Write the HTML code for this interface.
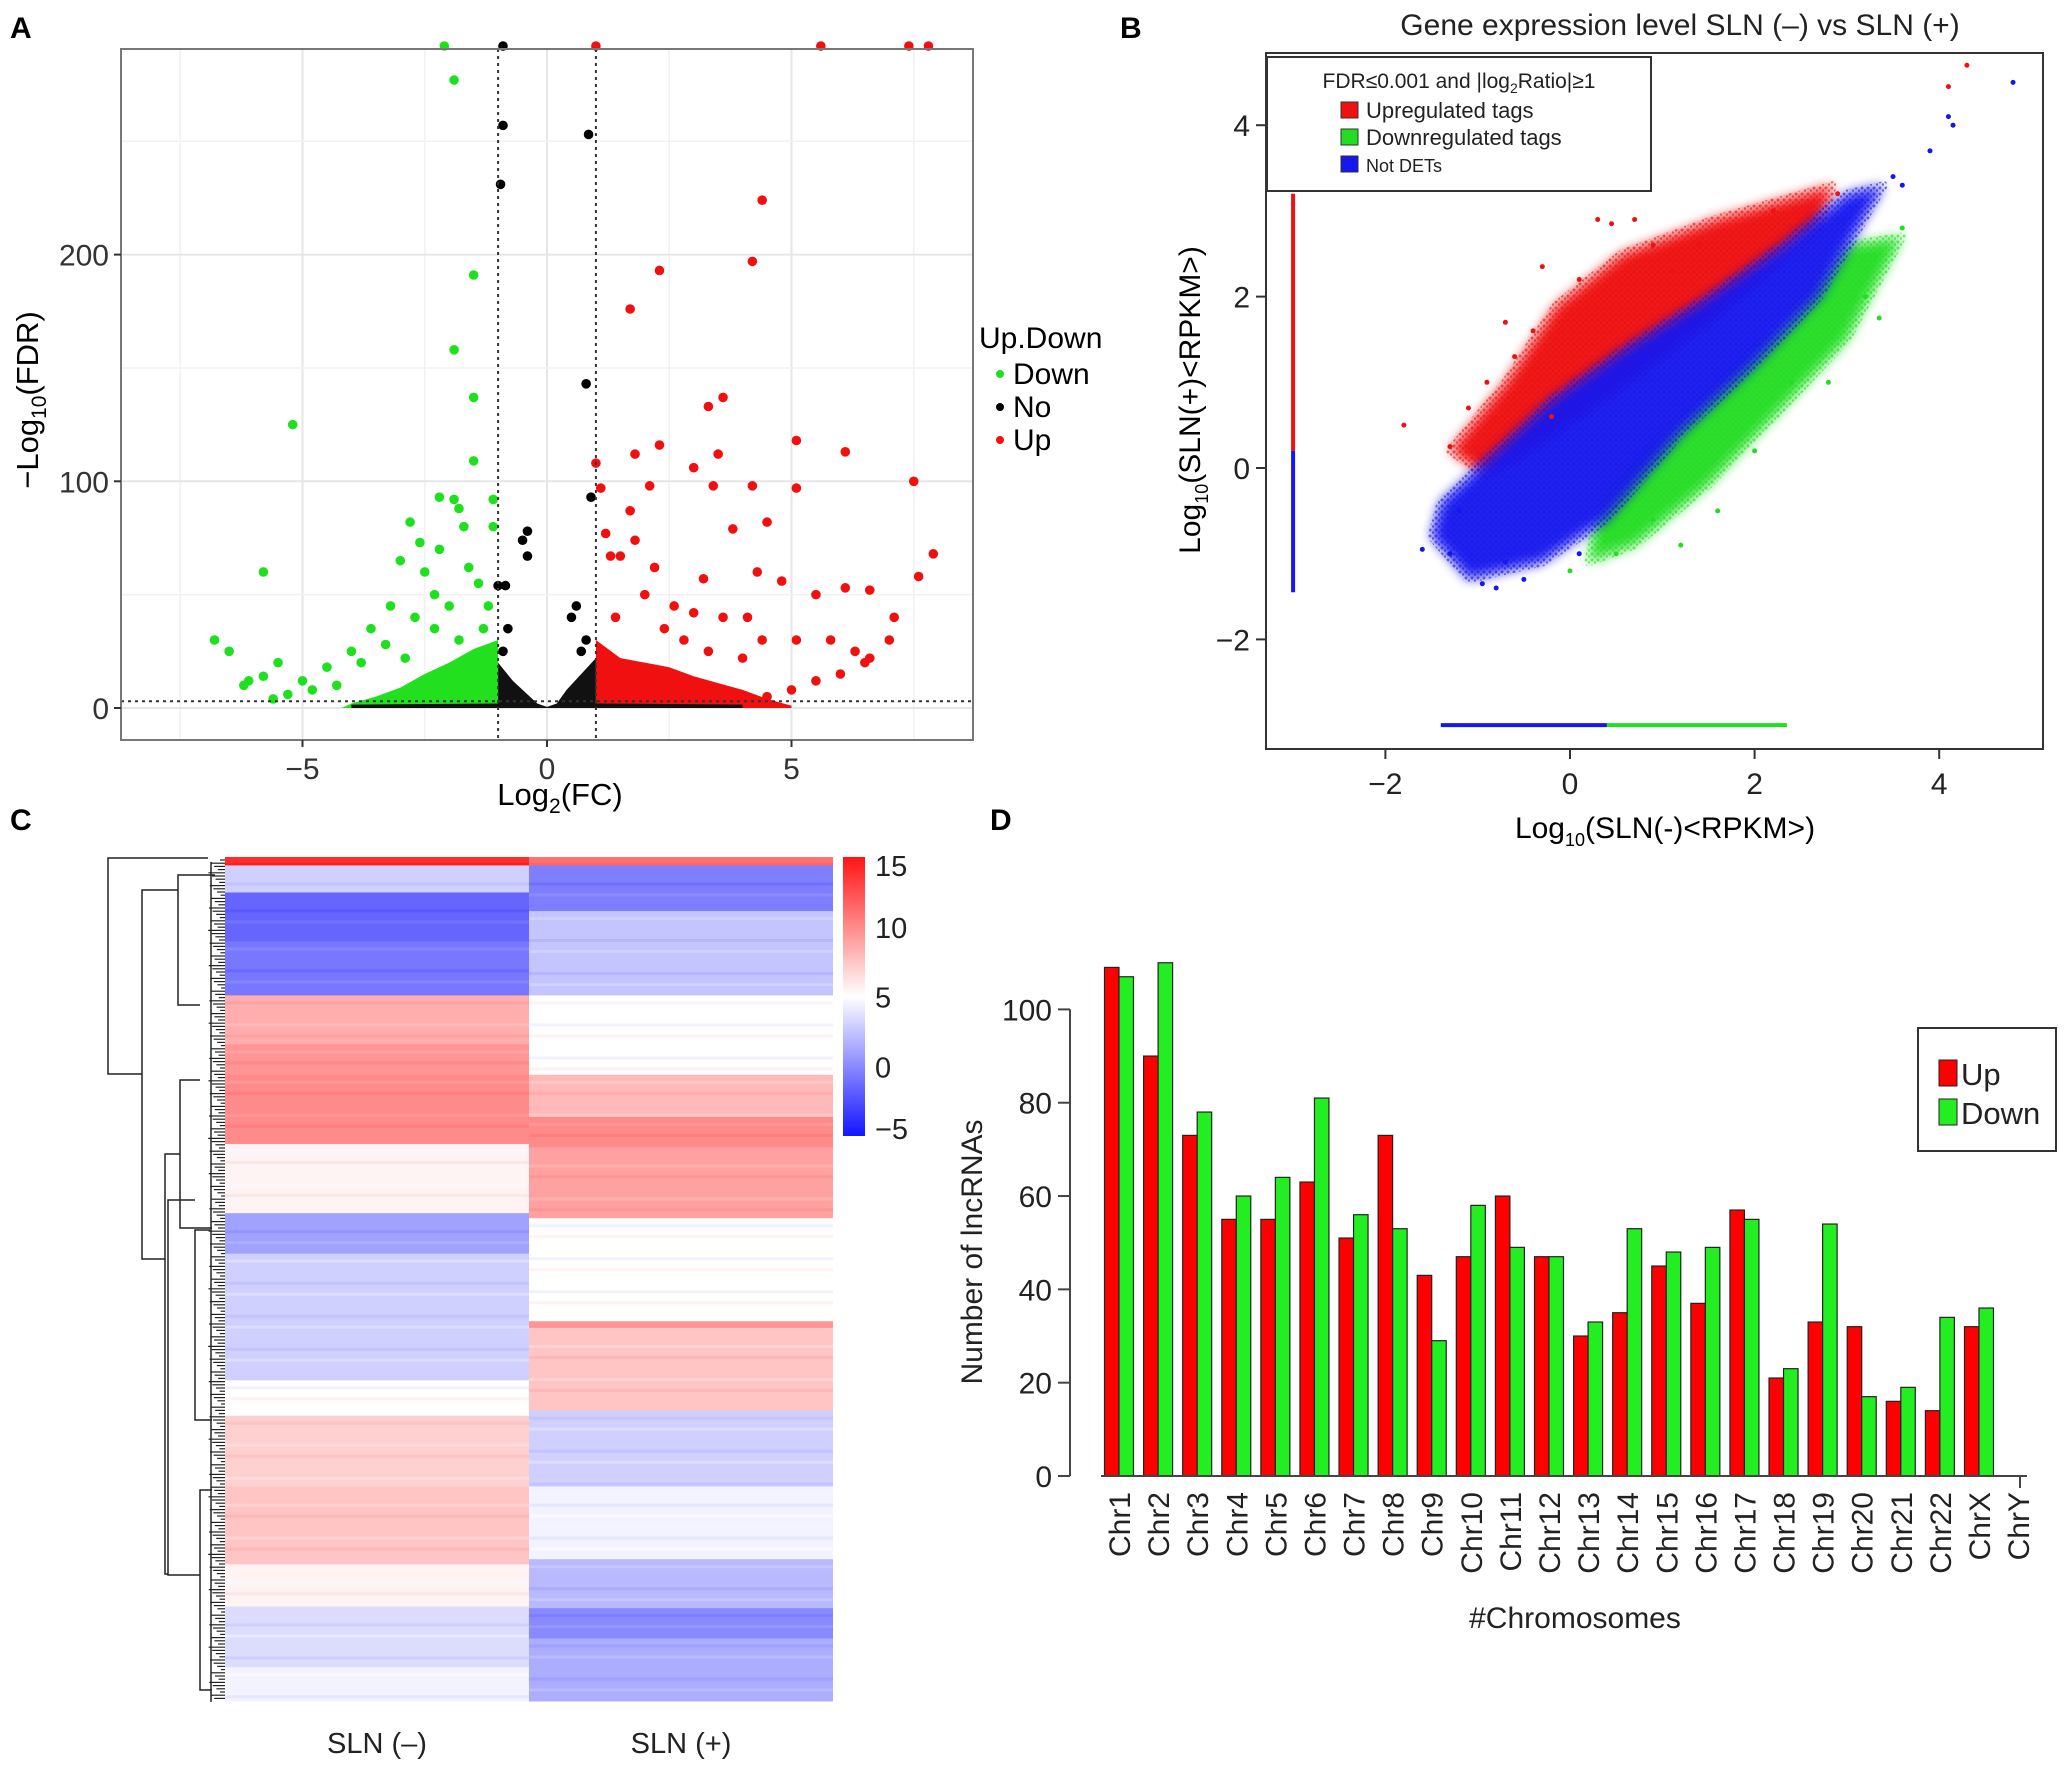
<!DOCTYPE html>
<html><head><meta charset="utf-8">
<style>
body{margin:0;background:#fff;}
svg{display:block;font-family:"Liberation Sans",Arial,sans-serif;}
</style></head>
<body>
<svg id="fig" width="2067" height="1769" viewBox="0 0 2067 1769" xmlns="http://www.w3.org/2000/svg">
<defs>
<filter id="blurB" x="-20%" y="-20%" width="140%" height="140%"><feGaussianBlur stdDeviation="6"/></filter>
<pattern id="dotR" width="6" height="6" patternUnits="userSpaceOnUse"><circle cx="2" cy="2" r="1.5" fill="#ee1111"/><circle cx="5" cy="4.5" r="1.2" fill="#ee1111"/></pattern>
<pattern id="dotG" width="6" height="6" patternUnits="userSpaceOnUse"><circle cx="2" cy="2" r="1.5" fill="#22dd22"/><circle cx="5" cy="4.5" r="1.2" fill="#22dd22"/></pattern>
<pattern id="dotB" width="6" height="6" patternUnits="userSpaceOnUse"><circle cx="2" cy="2" r="1.5" fill="#1616ee"/><circle cx="5" cy="4.5" r="1.2" fill="#1616ee"/></pattern>
</defs>
<rect width="2067" height="1769" fill="#fff"/>
<g id="A"></g>
<g id="B"></g>
<g id="C"></g>
<g id="D"></g>
</svg>
<script>
// ---------- Panel A data ----------
const volGreenCloud=[[-4.2,0],[-4,2],[-3.5,5],[-3,9],[-2.5,15],[-2,20],[-1.5,26],[-1,30],[-1,0]];
const volRedCloud=[[1,0],[1,30],[1.5,22],[2,20],[2.5,18],[3,14],[3.5,11],[4,8],[4.5,4],[5,1],[5,0]];
const volBlackCloud=[[-4,0],[-4,1.5],[-1,2],[-1,20],[-0.7,12],[-0.4,6],[-0.2,2],[0,0.5],[0.2,2],[0.4,8],[0.7,15],[1,22],[1,2],[4,1.5],[4,0]];
const volGreenPts=[[-6.8,30],[-6.5,25],[-5.8,60],[-5.2,125],[-5.5,20],[-1.9,277],[-1.5,191],[-1.9,158],[-1.5,137],[-1.5,109],[-2.1,292],[-2.2,93],[-2.8,82],[-1.7,80],[-2.6,73],[-3,65],[-2.2,70],[-2.5,60],[-1.4,55],[-3.2,45],[-2,45],[-1.1,92],[-1.1,80],[-3.6,35],[-2.7,40],[-4,25],[-4.5,18],[-5,12],[-5.8,14],[-6.1,12],[-3.8,20],[-3.3,28],[-2.3,35],[-1.8,30],[-1.3,35],[-2.9,22],[-4.3,10],[-4.8,8],[-5.3,6],[-5.6,4],[-6.2,10],[-1.9,92],[-1.8,88],[-2.3,50],[-1.6,62],[-1.2,45]];
const volBlackPts=[[-0.9,257],[-0.95,231],[0.85,253],[0.8,143],[-0.9,292],[0.9,93],[-0.4,78],[-0.5,74],[-0.4,67],[-1,54],[-0.85,54],[0.6,45],[0.5,40],[0.8,30],[-0.8,35],[-0.9,25],[0.7,25]];
const volRedPts=[[4.4,224],[4.2,197],[2.3,193],[1.7,176],[3.6,137],[3.3,133],[5.1,118],[6.1,113],[2.3,116],[1.8,112],[3.5,112],[1,108],[3,106],[7.5,100],[2.1,98],[3.4,98],[4.2,98],[5.1,97],[1.1,97],[1.7,87],[4.5,82],[3.8,79],[1.2,77],[1.8,74],[7.9,68],[1.5,67],[1.3,67],[2.2,62],[3.2,57],[4.3,60],[7.6,58],[4.8,56],[6.1,53],[6.6,52],[5.5,50],[7.1,40],[5.1,30],[5.8,30],[6.3,25],[6.6,22],[7,30],[1,292],[5.6,292],[7.4,292],[7.8,292],[2,50],[2.6,45],[3.6,40],[4.1,40],[1.4,40],[4.5,5],[5,8],[5.5,12],[6,15],[6.5,20],[2.8,30],[3.3,25],[4,22],[2.4,35],[3,42],[4.4,30]];
const volXTicks=[-5,0,5];
const volYTicks=[0,100,200];
// ---------- Panel B data ----------
const scRedCloud=[[-1.3,0.2],[-0.7,1.0],[-0.15,1.9],[0.56,2.5],[1.56,2.9],[2.85,3.3],[2.7,2.8],[1.5,1.7],[0.5,0.9],[-0.3,0.3],[-0.9,-0.1]];
const scGreenCloud=[[0.2,-1.1],[0.7,-0.9],[1.5,-0.2],[2.3,0.7],[3.0,1.5],[3.6,2.7],[3.0,2.6],[2.3,1.7],[1.5,0.9],[0.8,0.2],[0.3,-0.5]];
const scBlueCloud=[[-1.5,-0.8],[-1.1,-1.3],[-0.3,-1.1],[0.4,-0.6],[1.2,0.4],[2.0,1.2],[2.7,2.0],[3.4,3.3],[3.0,3.2],[2.3,2.6],[1.5,2.0],[0.6,1.4],[-0.2,0.8],[-0.9,0.1],[-1.4,-0.4]];
const scRedPts=[[-1.8,0.5],[-1.3,0.25],[-0.7,1.7],[-0.3,2.35],[0.3,2.9],[0.45,2.85],[0.7,2.9],[1.1,2.3],[1.4,2.6],[-0.6,1.3],[4.3,4.7],[4.1,4.45],[2.9,3.2],[-0.9,1.0],[-0.4,1.6],[0.1,2.2],[0.9,2.6],[2.2,3.0],[-1.1,0.7],[-0.2,0.6]];
const scGreenPts=[[3.35,1.75],[2.4,1.0],[1.6,-0.5],[0,-1.2],[0.9,-0.6],[3.6,2.8],[1.2,-0.9],[2.0,0.2],[2.8,1.0],[0.5,-1.0],[3.2,2.0]];
const scBluePts=[[-1.6,-0.95],[-0.8,-1.4],[-0.95,-1.35],[-1.2,-0.5],[4.8,4.5],[4.1,4.1],[4.15,4.0],[3.9,3.7],[3.5,3.4],[-0.7,-1.1],[-1.3,-1.0],[-0.5,-1.3],[0.1,-1.0],[3.6,3.3]];
const scXTicks=[-2,0,2,4];
const scYTicks=[-2,0,2,4];
// ---------- Panel C data ----------
const hmRows=500;
const hmCol1Breaks=[0,5,21,50,82,111,129,170,211,235,310,331,373,419,444,480,500];
const hmCol1Vals=[14,3,-1.5,-0.8,8.5,9.5,10,5.5,1,3,5,7,7.5,5.5,3.5,4.5];
const hmCol2Breaks=[0,5,32,82,129,154,172,214,275,279,328,373,416,445,463,500];
const hmCol2Vals=[11,-0.5,2.5,5,8,10,9,5,9.5,7.5,3,4.5,2,0,1.5];
const hmColLabels=["SLN (\u2013)","SLN (+)"];
const hmScaleTicks=[15,10,5,0,-5];
// ---------- Panel D data ----------
const chromosomes=["Chr1","Chr2","Chr3","Chr4","Chr5","Chr6","Chr7","Chr8","Chr9","Chr10","Chr11","Chr12","Chr13","Chr14","Chr15","Chr16","Chr17","Chr18","Chr19","Chr20","Chr21","Chr22","ChrX","ChrY"];
const upCounts=[109,90,73,55,55,63,51,73,43,47,60,47,30,35,45,37,57,21,33,32,16,14,32,0];
const downCounts=[107,110,78,60,64,81,56,53,29,58,49,47,33,53,48,49,55,23,54,17,19,34,36,0];
const barYTicks=[0,20,40,60,80,100];

const NS="http://www.w3.org/2000/svg";
function mk(parent,tag,attrs,text){const e=document.createElementNS(NS,tag);for(const k in attrs)e.setAttribute(k,attrs[k]);if(text!==undefined)e.textContent=text;parent.appendChild(e);return e;}

// ===== Panel A =====
(function(){
const g=document.getElementById('A');
const X=v=>547+48.9*v, Y=v=>708-2.267*v;
const L=121,R=973,T=49,B=740;
let t=mk(g,'text',{x:10,y:38,'font-size':30,'font-weight':'bold'},'A');

for(let v=-7.5;v<=7.5;v+=2.5){let l=mk(g,'line',{x1:X(v),x2:X(v),y1:T,y2:B,stroke:v%5===0?'#e6e6e6':'#f2f2f2','stroke-width':v%5===0?2:1.5});}
for(let v=0;v<=250;v+=50){let l=mk(g,'line',{x1:L,x2:R,y1:Y(v),y2:Y(v),stroke:v%100===0?'#e6e6e6':'#f2f2f2','stroke-width':v%100===0?2:1.5});}
const poly=(pts,c,n)=>{let p=mk(g,'polygon',{points:pts.map(q=>X(q[0])+','+Y(q[1])).join(' '),fill:c});};
poly(volGreenCloud,'#22e01e','down-cloud');poly(volRedCloud,'#f01010','up-cloud');poly(volBlackCloud,'#111','no-cloud');
const dots=(arr,c,n)=>arr.forEach(q=>{let d=mk(g,'circle',{cx:X(q[0]),cy:Y(q[1]),r:4.8,fill:c});});
dots(volGreenPts,'#1ee01e','down-point');dots(volBlackPts,'#000','no-point');dots(volRedPts,'#f01010','up-point');
[[X(-1),X(-1),T,B],[X(1),X(1),T,B],[L,R,Y(3),Y(3)]].forEach(a=>{let l=mk(g,'line',{x1:a[0],x2:a[1],y1:a[2],y2:a[3],stroke:'#333','stroke-width':2,'stroke-dasharray':'3,4'});});
let fr=mk(g,'rect',{x:L,y:T,width:R-L,height:B-T,fill:'none',stroke:'#777','stroke-width':2});
volXTicks.forEach(v=>{mk(g,'line',{x1:X(v),x2:X(v),y1:B,y2:B+7,stroke:'#333','stroke-width':2});let s=mk(g,'text',{x:X(v),y:B+39,'font-size':30,fill:'#333','text-anchor':'middle'},v<0?'\u2212'+(-v):v);});
volYTicks.forEach(v=>{mk(g,'line',{x1:L-7,x2:L,y1:Y(v),y2:Y(v),stroke:'#333','stroke-width':2});let s=mk(g,'text',{x:L-12,y:Y(v)+11,'font-size':30,fill:'#333','text-anchor':'end'},v);});
let xt=mk(g,'text',{x:560,y:805,'font-size':31,'text-anchor':'middle'});xt.innerHTML='Log<tspan font-size="21" dy="8">2</tspan><tspan dy="-8">(FC)</tspan>';
let yt=mk(g,'text',{transform:'translate(38,400) rotate(-90)','font-size':31,'text-anchor':'middle'});yt.innerHTML='\u2212Log<tspan font-size="21" dy="8">10</tspan><tspan dy="-8">(FDR)</tspan>';
let lt=mk(g,'text',{x:979,y:348,'font-size':30},'Up.Down');
[['Down','#1ee01e',384],['No','#000',417],['Up','#f01010',450]].forEach(e=>{let c=mk(g,'circle',{cx:1000,cy:e[2]-10,r:4,fill:e[1]});let s=mk(g,'text',{x:1013,y:e[2],'font-size':30},e[0]);});
})();

// ===== Panel B =====
(function(){
const g=document.getElementById('B');
const X=v=>1570+92.3*v, Y=v=>468-85.7*v;
const L=1266,R=2043,T=53,B=749;
let t=mk(g,'text',{x:1120,y:38,'font-size':30,'font-weight':'bold'},'B');
let ti=mk(g,'text',{x:1680,y:35,'font-size':30,'text-anchor':'middle',fill:'#222'},'Gene expression level SLN (\u2013) vs SLN (+)');
const poly=(pts,c,pat,n)=>{
 const P=pts.map(q=>X(q[0])+','+Y(q[1])).join(' ');
 let f=mk(g,'polygon',{points:P,fill:pat,stroke:pat,'stroke-width':8,'stroke-linejoin':'round',opacity:0.6});
 let p=mk(g,'polygon',{points:P,fill:c,filter:'url(#blurB)',opacity:0.95});};
poly(scRedCloud,'#ee1111','url(#dotR)','up-cloud');poly(scGreenCloud,'#22dd22','url(#dotG)','down-cloud');poly(scBlueCloud,'#1616ee','url(#dotB)','not-det-cloud');
const dots=(arr,c,n)=>arr.forEach(q=>{let d=mk(g,'circle',{cx:X(q[0]),cy:Y(q[1]),r:2.5,fill:c});});
dots(scRedPts,'#ee1111','up-point');dots(scGreenPts,'#22dd22','down-point');dots(scBluePts,'#1616ee','not-det-point');
const seg=(x1,y1,x2,y2,c,n)=>{let l=mk(g,'line',{x1:X(x1),y1:Y(y1),x2:X(x2),y2:Y(y2),stroke:c,'stroke-width':4});};
seg(-3,0.2,-3,3.2,'#ee1111','zero-minus-up-strip');seg(-3,-1.45,-3,0.2,'#1616ee','zero-minus-nodet-strip');
seg(-1.4,-3,0.4,-3,'#1616ee','zero-plus-nodet-strip');seg(0.4,-3,2.35,-3,'#22dd22','zero-plus-down-strip');
let fr=mk(g,'rect',{x:L,y:T,width:R-L,height:B-T,fill:'none',stroke:'#333','stroke-width':2});
scXTicks.forEach(v=>{mk(g,'line',{x1:X(v),x2:X(v),y1:B,y2:B+10,stroke:'#333','stroke-width':2});let s=mk(g,'text',{x:X(v),y:B+45,'font-size':30,fill:'#222','text-anchor':'middle'},v<0?'\u2212'+(-v):v);});
scYTicks.forEach(v=>{mk(g,'line',{x1:L-10,x2:L,y1:Y(v),y2:Y(v),stroke:'#333','stroke-width':2});let s=mk(g,'text',{x:L-16,y:Y(v)+11,'font-size':30,fill:'#222','text-anchor':'end'},v<0?'\u2212'+(-v):v);});
let xt=mk(g,'text',{x:1665,y:838,'font-size':30,'text-anchor':'middle'});xt.innerHTML='Log<tspan font-size="18" dy="8">10</tspan><tspan dy="-8">(SLN(-)&lt;RPKM&gt;)</tspan>';
let yt=mk(g,'text',{transform:'translate(1200,400) rotate(-90)','font-size':30,'text-anchor':'middle'});yt.innerHTML='Log<tspan font-size="18" dy="8">10</tspan><tspan dy="-8">(SLN(+)&lt;RPKM&gt;)</tspan>';
let lb=mk(g,'rect',{x:1267,y:57,width:384,height:134,fill:'#fff',stroke:'#333','stroke-width':2});
let lh=mk(g,'text',{x:1459,y:88,'font-size':21,'text-anchor':'middle',fill:'#222'});lh.innerHTML='FDR\u22640.001 and |log<tspan font-size="14" dy="5">2</tspan><tspan dy="-5">Ratio|\u22651</tspan>';
[['Upregulated tags','#ee1111',118,22],['Downregulated tags','#22dd22',145,22],['Not DETs','#1616ee',172,18]].forEach(e=>{let r=mk(g,'rect',{x:1341,y:e[2]-16,width:17,height:16,fill:e[1],stroke:'#333','stroke-width':1});let s=mk(g,'text',{x:1366,y:e[2],'font-size':e[3],fill:'#222'},e[0]);});
})();

// ===== Panel C =====
(function(){
const g=document.getElementById('C');
const top=857,bot=1701,rowH=(bot-top)/hmRows;
const colX=[225,529],colW=[304,304];
function col(v){const t=Math.max(-5,Math.min(15,v));let r,gg,b;
 if(t<5){const f=(t+5)/10;r=Math.round(20+235*f);gg=Math.round(20+235*f);b=255;}
 else{const f=(t-5)/10;r=255;gg=Math.round(255-235*f);b=Math.round(255-235*f);}
 return `rgb(${r},${gg},${b})`;}
let t=mk(g,'text',{x:10,y:830,'font-size':30,'font-weight':'bold'},'C');
[[hmCol1Breaks,hmCol1Vals],[hmCol2Breaks,hmCol2Vals]].forEach((c,ci)=>{
 for(let i=0;i<c[1].length;i++){
  const y0=top+c[0][i]*rowH,y1=top+c[0][i+1]*rowH;
  let r=mk(g,'rect',{x:colX[ci],y:y0,width:colW[ci],height:y1-y0+0.5,fill:col(c[1][i])});
  
  for(let y=y0+6;y<y1-2;y+=11){let s=mk(g,'rect',{x:colX[ci],y:y,width:colW[ci],height:3,fill:col(c[1][i]+(((y|0)%3)-1)*0.8),opacity:0.7});}
 }});
hmColLabels.forEach((s,i)=>{let e=mk(g,'text',{x:colX[i]+colW[i]/2,y:1753,'font-size':29,'text-anchor':'middle',fill:'#222'},s);});
const sTop=857,sBot=1136;
const grd=mk(mk(g,'defs',{}),'linearGradient',{id:'hmgrad',x1:0,y1:0,x2:0,y2:1});
[15,10,5,0,-5].forEach((v,i)=>mk(grd,'stop',{offset:i/4,'stop-color':col(v)}));
let sb=mk(g,'rect',{x:843,y:sTop,width:22,height:sBot-sTop,fill:'url(#hmgrad)'});
hmScaleTicks.forEach(v=>{const y=sTop+(15-v)/20*(sBot-sTop)+(v===15?8:v===-5?-8:0);let e=mk(g,'text',{x:875,y:y+11,'font-size':29,fill:'#222'},v<0?'\u2212'+(-v):v);});
const den=mk(g,'g',{stroke:'#222','stroke-width':1.5,fill:'none'});
const br=(x,y1,y2,xr1,xr2)=>{mk(den,'path',{d:`M${xr1},${y1}H${x}V${y2}H${xr2}`});};
br(108,858,1074,208,142);
br(142,890,1259,178,165);
br(178,875,1005,215,200);
br(165,1154,1574,180,168);
br(168,1200,1575,195,200);
br(180,1080,1228,200,212);
br(195,1230,1420,210,212);
br(200,1490,1690,212,212);
for(let y=860;y<1700;y+=3.2){const w=4+((y*7)%13);mk(den,'line',{x1:225-w,x2:225,y1:y,y2:y,'stroke-width':1.2});}
for(let y=862;y<1698;y+=12){mk(den,'line',{x1:208+((y*3)%9),x2:208+((y*3)%9),y1:y,y2:y+12});}
})();

// ===== Panel D =====
(function(){
const g=document.getElementById('D');
const Y=v=>1476-4.666*v, CX=i=>1119+39.09*i, bw=14.5;
let t=mk(g,'text',{x:990,y:830,'font-size':30,'font-weight':'bold'},'D');
chromosomes.forEach((c,i)=>{
 if(upCounts[i]>0){let r=mk(g,'rect',{x:CX(i)-bw,y:Y(upCounts[i]),width:bw,height:Y(0)-Y(upCounts[i]),fill:'#ff0000',stroke:'#222','stroke-width':1.2});}
 if(downCounts[i]>0){let r=mk(g,'rect',{x:CX(i),y:Y(downCounts[i]),width:bw,height:Y(0)-Y(downCounts[i]),fill:'#22ee22',stroke:'#222','stroke-width':1.2});}
 let s=mk(g,'text',{transform:`translate(${CX(i)+11},1492) rotate(-90)`,'font-size':30,'text-anchor':'end',fill:'#222'},c);
});
let ax=mk(g,'line',{x1:1101,x2:2027,y1:1476,y2:1476,stroke:'#444','stroke-width':2});
mk(g,'line',{x1:2020,x2:2020,y1:1476,y2:1488,stroke:'#444','stroke-width':2});
let ay=mk(g,'line',{x1:1070,x2:1070,y1:Y(0),y2:Y(100),stroke:'#444','stroke-width':2});
barYTicks.forEach(v=>{mk(g,'line',{x1:1058,x2:1070,y1:Y(v),y2:Y(v),stroke:'#444','stroke-width':2});let s=mk(g,'text',{x:1052,y:Y(v)+11,'font-size':30,'text-anchor':'end',fill:'#222'},v);});
let yt=mk(g,'text',{transform:'translate(982,1252) rotate(-90)','font-size':30,'text-anchor':'middle',fill:'#222'},'Number of lncRNAs');
let xt=mk(g,'text',{x:1575,y:1628,'font-size':30,'text-anchor':'middle',fill:'#222'},'#Chromosomes');
let lb=mk(g,'rect',{x:1918,y:1028,width:138,height:123,fill:'#fff',stroke:'#333','stroke-width':2});
[['Up','#ff0000',1085],['Down','#22ee22',1124]].forEach(e=>{let r=mk(g,'rect',{x:1939,y:e[2]-25,width:18,height:26,fill:e[1],stroke:'#222','stroke-width':1});let s=mk(g,'text',{x:1961,y:e[2],'font-size':31,fill:'#222'},e[0]);});
})();
</script>
</body></html>
